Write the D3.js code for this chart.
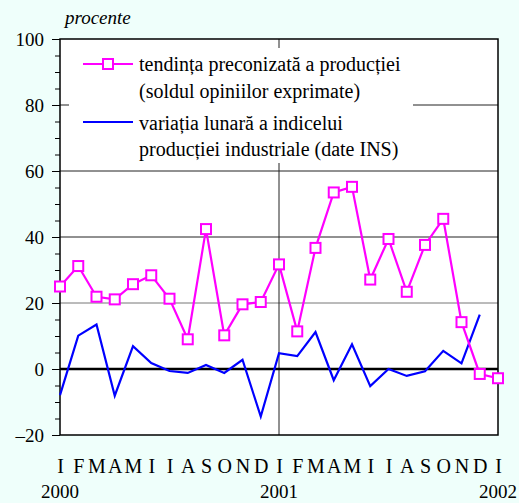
<!DOCTYPE html>
<html>
<head>
<meta charset="utf-8">
<script src="https://cdn.jsdelivr.net/npm/d3@7"></script>
<style>
  body { margin: 0; background: #effffb; }
  svg text { font-family: 'Liberation Serif', 'Times New Roman', Times, serif; }
</style>
</head>
<body>
<svg width="519" height="503"></svg>
<script>
const monthLabels = ['I', 'F', 'M', 'A', 'M', 'I', 'I', 'A', 'S', 'O', 'N', 'D',
  'I', 'F', 'M', 'A', 'M', 'I', 'I', 'A', 'S', 'O', 'N', 'D', 'I']
const yearLabels = ['2000', '2001', '2002']
const yTicks = [-20, 0, 20, 40, 60, 80, 100]
// tendinta preconizata (soldul opiniilor), ian 2000 - ian 2002
const tendinta = [25, 31.2, 21.9, 21.1, 25.7, 28.4, 21.3, 9, 42.4, 10.2, 19.6, 20.3,
  31.7, 11.4, 36.7, 53.5, 55.2, 27.1, 39.4, 23.4, 37.6, 45.5, 14.2, -1.5, -2.8]
// variatia lunara a indicelui productiei industriale, ian 2000 - dec 2001
const variatia = [-7.9, 10.1, 13.5, -8.1, 6.9, 1.8, -0.6, -1.2, 1.2, -1.2, 2.8, -14.4,
  4.8, 3.9, 11.2, -3.4, 7.5, -5.2, 0, -2.1, -0.7, 5.5, 1.7, 16.5]

const plot = { left: 60, right: 498, top: 39, bottom: 435 }
const svg = d3.select('svg')

const x = d3.scaleLinear().domain([0, 24]).range([plot.left, plot.right])
const y = d3.scaleLinear().domain([-20, 100]).range([plot.bottom, plot.top])

// plot background
svg.append('rect')
  .attr('x', plot.left).attr('y', plot.top)
  .attr('width', plot.right - plot.left).attr('height', plot.bottom - plot.top)
  .attr('fill', '#fff')

// grid lines
svg.append('g')
  .selectAll('line')
  .data([20, 40, 60, 80])
  .join('line')
  .attr('x1', plot.left).attr('x2', plot.right)
  .attr('y1', d => y(d)).attr('y2', d => y(d))
  .attr('stroke', d => d === 20 ? '#777' : '#222')
  .attr('stroke-width', 1)

// year separator
svg.append('line')
  .attr('x1', x(12)).attr('x2', x(12))
  .attr('y1', plot.top).attr('y2', plot.bottom)
  .attr('stroke', '#222')

// legend box
svg.append('rect')
  .attr('x', 69).attr('y', 48)
  .attr('width', 344).attr('height', 115)
  .attr('fill', '#fff')

// zero line
svg.append('line')
  .attr('x1', plot.left).attr('x2', plot.right)
  .attr('y1', y(0)).attr('y2', y(0))
  .attr('stroke', '#000')
  .attr('stroke-width', 2.5)

// y axis, major ticks with labels
const yAxis = d3.axisLeft(y).tickValues(yTicks).tickSize(8).tickPadding(8)
  .tickFormat(d => d < 0 ? '\u2013' + Math.abs(d) : d)
const ga = svg.append('g')
  .attr('transform', `translate(${plot.left},0)`)
  .call(yAxis)
  .attr('font-family', null)
  .attr('font-size', 19)
ga.select('.domain').remove()
ga.selectAll('text').attr('fill', '#000')
ga.selectAll('line').attr('stroke', '#000')

// minor ticks
const minor = d3.range(-20, 101, 5).filter(d => d % 20 !== 0)
const gm = svg.append('g')
  .attr('transform', `translate(${plot.left},0)`)
  .call(d3.axisLeft(y).tickValues(minor).tickSize(5).tickFormat(''))
gm.select('.domain').remove()
gm.selectAll('line').attr('stroke', '#000')

// x axis labels
const gx = svg.append('g')
  .attr('transform', `translate(0,${plot.bottom})`)
  .call(d3.axisBottom(x).tickValues(d3.range(25)).tickSize(0).tickPadding(24)
    .tickFormat(i => monthLabels[i]))
  .attr('font-family', null)
  .attr('font-size', 20)
gx.select('.domain').remove()
gx.selectAll('text').attr('fill', '#000')

svg.append('g')
  .selectAll('text')
  .data(yearLabels)
  .join('text')
  .attr('x', (d, i) => x(i * 12))
  .attr('y', 498)
  .attr('text-anchor', 'middle')
  .attr('font-size', 19)
  .text(d => d)

// frame
svg.append('rect')
  .attr('x', plot.left).attr('y', plot.top)
  .attr('width', plot.right - plot.left).attr('height', plot.bottom - plot.top)
  .attr('fill', 'none')
  .attr('stroke', '#000')
  .attr('stroke-width', 1.5)

// series
const line = d3.line().x((d, i) => x(i)).y(d => y(d))

svg.append('path')
  .datum(variatia)
  .attr('d', line)
  .attr('fill', 'none')
  .attr('stroke', '#0000ff')
  .attr('stroke-width', 2.2)

svg.append('path')
  .datum(tendinta)
  .attr('d', line)
  .attr('fill', 'none')
  .attr('stroke', '#ff00ff')
  .attr('stroke-width', 2.2)

svg.append('g')
  .selectAll('rect')
  .data(tendinta)
  .join('rect')
  .attr('x', (d, i) => x(i) - 5)
  .attr('y', d => y(d) - 5)
  .attr('width', 10).attr('height', 10)
  .attr('fill', '#fff')
  .attr('stroke', '#ff00ff')
  .attr('stroke-width', 2)

// unit label
svg.append('text')
  .attr('x', 65).attr('y', 24)
  .attr('font-size', 19)
  .attr('font-style', 'italic')
  .text('procente')

// legend
const legend = svg.append('g')
legend.append('line')
  .attr('x1', 83).attr('x2', 133).attr('y1', 64).attr('y2', 64)
  .attr('stroke', '#ff00ff').attr('stroke-width', 2.2)
legend.append('rect')
  .attr('x', 103).attr('y', 59).attr('width', 10).attr('height', 10)
  .attr('fill', '#fff').attr('stroke', '#ff00ff').attr('stroke-width', 2)
legend.append('line')
  .attr('x1', 83).attr('x2', 133).attr('y1', 122).attr('y2', 122)
  .attr('stroke', '#0000ff').attr('stroke-width', 2.2)

const legendLines = [
  ['tendința preconizată a producției', 71],
  ['(soldul opiniilor exprimate)', 98],
  ['variația lunară a indicelui', 130],
  ['producției industriale (date INS)', 156]
]
legend.selectAll('text.lg')
  .data(legendLines)
  .join('text')
  .attr('class', 'lg')
  .attr('x', 139)
  .attr('y', d => d[1])
  .attr('font-size', 20)
  .text(d => d[0])
</script>
</body>
</html>
